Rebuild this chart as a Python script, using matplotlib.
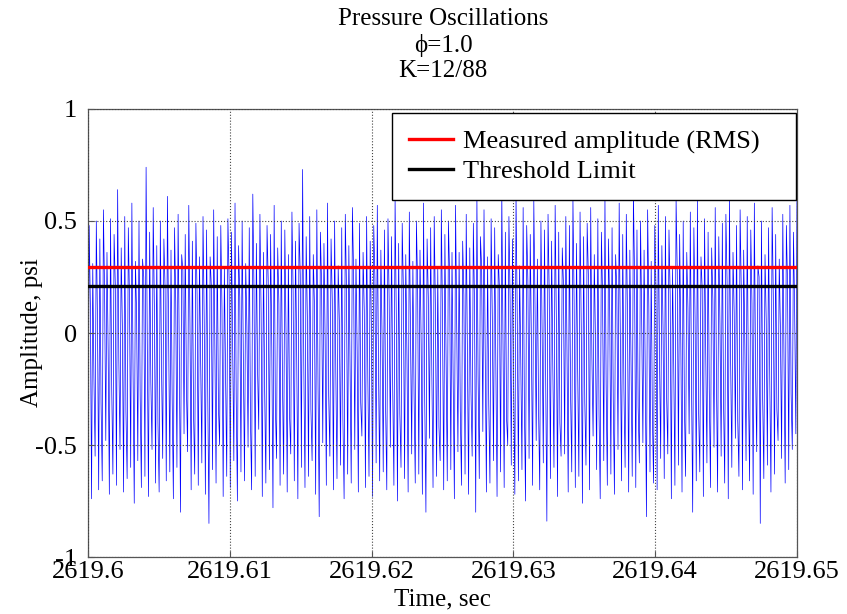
import numpy as np
import matplotlib.pyplot as plt

# Valori (per ciclo: valle, picco, punto intermedio; psi)
peaks = [0.48, 0.31, 0.50, 0.42, 0.55, 0.36, 0.51, 0.44, 0.64, 0.38, 0.52, 0.47, 0.58, 0.32, 0.50, 0.33, 0.74, 0.45, 0.56, 0.39,
         0.50, 0.42, 0.61, 0.37, 0.47, 0.53, 0.35, 0.44, 0.57, 0.41, 0.49, 0.34, 0.52, 0.46, 0.34, 0.55, 0.43, 0.48, 0.29, 0.51,
         0.45, 0.58, 0.39, 0.50, 0.31, 0.47, 0.62, 0.40, 0.53, 0.36, 0.48, 0.44, 0.57, 0.38, 0.50, 0.46, 0.35, 0.54, 0.41, 0.49,
         0.73, 0.43, 0.52, 0.35, 0.55, 0.45, 0.40, 0.58, 0.42, 0.50, 0.30, 0.47, 0.53, 0.39, 0.56, 0.33, 0.49, 0.36, 0.52, 0.41,
         0.48, 0.57, 0.37, 0.46, 0.51, 0.43, 0.60, 0.40, 0.49, 0.35, 0.54, 0.32, 0.50, 0.37, 0.58, 0.42, 0.47, 0.52, 0.29, 0.55,
         0.44, 0.50, 0.36, 0.57, 0.36, 0.41, 0.53, 0.38, 0.49, 0.62, 0.43, 0.55, 0.34, 0.51, 0.47, 0.35, 0.63, 0.45, 0.52, 0.42,
         0.62, 0.30, 0.56, 0.48, 0.44, 0.59, 0.33, 0.50, 0.46, 0.53, 0.41, 0.57, 0.45, 0.38, 0.52, 0.48, 0.60, 0.40, 0.54, 0.43,
         0.49, 0.56, 0.35, 0.51, 0.45, 0.61, 0.42, 0.47, 0.35, 0.58, 0.44, 0.53, 0.37, 0.63, 0.46, 0.50, 0.37, 0.55, 0.32, 0.48,
         0.57, 0.39, 0.52, 0.46, 0.29, 0.60, 0.44, 0.50, 0.36, 0.54, 0.47, 0.59, 0.34, 0.51, 0.45, 0.38, 0.56, 0.43, 0.49, 0.53,
         0.60, 0.36, 0.48, 0.55, 0.37, 0.52, 0.46, 0.58, 0.30, 0.50, 0.35, 0.47, 0.56, 0.44, 0.33, 0.53, 0.48, 0.57, 0.45, 0.69]
troughs = [-0.62, -0.74, -0.55, -0.70, -0.66, -0.48, -0.72, -0.63, -0.68, -0.52, -0.71, -0.65, -0.60, -0.76, -0.57, -0.69, -0.64, -0.73, -0.52, -0.67,
           -0.71, -0.56, -0.66, -0.62, -0.74, -0.60, -0.80, -0.45, -0.53, -0.70, -0.63, -0.68, -0.58, -0.72, -0.85, -0.61, -0.67, -0.50, -0.73, -0.64,
           -0.69, -0.57, -0.75, -0.62, -0.66, -0.51, -0.70, -0.64, -0.43, -0.73, -0.67, -0.61, -0.78, -0.56, -0.68, -0.63, -0.71, -0.54, -0.66, -0.74,
           -0.60, -0.69, -0.64, -0.57, -0.72, -0.82, -0.49, -0.68, -0.55, -0.70, -0.65, -0.59, -0.74, -0.63, -0.67, -0.52, -0.71, -0.46, -0.69, -0.64,
           -0.73, -0.58, -0.66, -0.62, -0.70, -0.51, -0.68, -0.75, -0.60, -0.65, -0.71, -0.54, -0.67, -0.63, -0.72, -0.80, -0.47, -0.69, -0.64, -0.57,
           -0.70, -0.66, -0.61, -0.74, -0.53, -0.68, -0.63, -0.72, -0.55, -0.80, -0.65, -0.44, -0.71, -0.67, -0.57, -0.73, -0.62, -0.69, -0.50, -0.59,
           -0.72, -0.66, -0.61, -0.75, -0.56, -0.68, -0.48, -0.70, -0.58, -0.84, -0.65, -0.60, -0.73, -0.55, -0.54, -0.71, -0.62, -0.69, -0.64, -0.76,
           -0.59, -0.70, -0.46, -0.61, -0.74, -0.57, -0.68, -0.63, -0.72, -0.52, -0.66, -0.60, -0.71, -0.64, -0.69, -0.58, -0.49, -0.82, -0.62, -0.67,
           -0.70, -0.56, -0.65, -0.54, -0.74, -0.68, -0.59, -0.71, -0.64, -0.45, -0.80, -0.66, -0.62, -0.73, -0.58, -0.69, -0.51, -0.71, -0.55, -0.67,
           -0.74, -0.60, -0.47, -0.64, -0.70, -0.57, -0.66, -0.72, -0.53, -0.85, -0.65, -0.59, -0.71, -0.63, -0.48, -0.56, -0.67, -0.61, -0.52, -0.45]
mids = [0.12, -0.20, 0.05, -0.31, 0.18, -0.08, -0.25, 0.22, -0.12, 0.02, -0.35, 0.15, -0.18, 0.08, -0.28, 0.25, -0.05, -0.22, 0.10, -0.40,
        -0.15, 0.20, -0.02, -0.30, 0.14, -0.10, 0.28, -0.24, 0.04, -0.36, 0.17, -0.13, 0.06, -0.27, 0.21, -0.07, -0.33, 0.11, -0.19, 0.24,
        -0.04, -0.29, 0.16, -0.11, 0.03, -0.38, 0.19, -0.16, 0.09, -0.26, 0.23, -0.06, -0.32, 0.13, -0.21, 0.01, -0.37, 0.18, -0.09, 0.26,
        -0.14, 0.07, -0.34, 0.12, -0.23, 0.22, -0.03, -0.28, 0.15, -0.17, 0.05, -0.39, 0.20, -0.12, 0.27, -0.08, -0.31, 0.10, -0.20, 0.03,
        0.24, -0.15, -0.01, -0.33, 0.14, -0.25, 0.08, -0.36, 0.19, -0.10, 0.02, -0.27, 0.21, -0.05, -0.30, 0.16, -0.18, 0.11, -0.42, 0.06,
        -0.13, 0.25, -0.22, 0.04, -0.35, 0.17, -0.07, -0.26, 0.12, -0.19, 0.29, -0.09, -0.32, 0.07, -0.16, 0.20, -0.02, -0.38, 0.15, -0.24,
        0.09, -0.12, -0.29, 0.23, -0.06, 0.13, -0.34, 0.01, -0.21, 0.18, -0.14, 0.06, -0.40, 0.22, -0.08, -0.27, 0.14, -0.17, 0.03, -0.31,
        0.26, -0.11, -0.04, -0.36, 0.16, -0.23, 0.10, -0.30, 0.19, -0.07, -0.25, 0.08, -0.15, 0.24, -0.33, 0.05, -0.19, 0.12, -0.37, 0.21,
        -0.10, 0.02, -0.28, 0.17, -0.14, 0.27, -0.05, -0.32, 0.11, -0.22, 0.07, -0.35, 0.20, -0.09, -0.26, 0.15, -0.18, 0.04, -0.30, 0.23,
        -0.12, 0.09, -0.39, 0.18, -0.06, -0.24, 0.13, -0.16, 0.25, -0.29, 0.06, -0.20, 0.16, -0.34, 0.01, -0.11, 0.22, -0.27, 0.10, 0.35]
rms_level = 0.295
threshold = 0.21

t_start, t_end = 2619.6, 2619.65
x_ticks = [2619.6, 2619.61, 2619.62, 2619.63, 2619.64, 2619.65]
x_ticklabels = ['2619.6', '2619.61', '2619.62', '2619.63', '2619.64', '2619.65']
y_ticks = [-1, -0.5, 0, 0.5, 1]
y_ticklabels = ['-1', '-0.5', '0', '0.5', '1']
title_lines = ['Pressure Oscillations', '\u03d5=1.0', 'K=12/88']

plt.rcParams['font.family'] = ['Liberation Serif', 'DejaVu Serif']

# Segnale campionato: valle, picco, intermedio per ogni ciclo
signal = np.ravel(np.column_stack([troughs, peaks, mids]))[:-1]
time = np.linspace(t_start, t_end, len(signal))

fig = plt.figure(figsize=(8.47, 6.14), dpi=100)
ax = fig.add_axes([0.1039, 0.0928, 0.8371, 0.7297])

ax.plot(time, signal, color='blue', linewidth=0.5, zorder=2)
ax.axhline(rms_level, color='red', linewidth=2.4, zorder=3, label='Measured amplitude (RMS)')
ax.axhline(threshold, color='black', linewidth=2.4, zorder=3, label='Threshold Limit')

ax.set_xlim(t_start, t_end)
ax.set_ylim(-1, 1)
ax.set_xticks(x_ticks)
ax.set_xticklabels(x_ticklabels)
ax.set_yticks(y_ticks)
ax.set_yticklabels(y_ticklabels)
ax.tick_params(direction='in', length=4, labelsize=19, color='#555555', pad=3)
ax.tick_params(axis='y', pad=8)
for s in ax.spines.values():
    s.set_color('#555555')
    s.set_linewidth(0.9)

ax.set_axisbelow(False)
ax.grid(True, linestyle=':', color='#444444', linewidth=0.8)

ax.set_xlabel('Time, sec', fontsize=18, labelpad=4)
ax.set_ylabel('Amplitude, psi', fontsize=18, labelpad=-6)

for i, line in enumerate(title_lines):
    fig.text(0.523, 0.969 - i * 0.0425, line, ha='center', va='center', fontsize=18)

leg = ax.legend(loc='upper right', bbox_to_anchor=(0.4288, 0.0, 0.5698, 0.991), mode='expand',
                fontsize=19, frameon=True, fancybox=False, framealpha=1,
                edgecolor='black', handlelength=1.65, handletextpad=0.4,
                borderaxespad=0.0, borderpad=0.65, labelspacing=0.2)
leg.get_frame().set_linewidth(1.0)

fig.savefig('out.png', dpi=100)
